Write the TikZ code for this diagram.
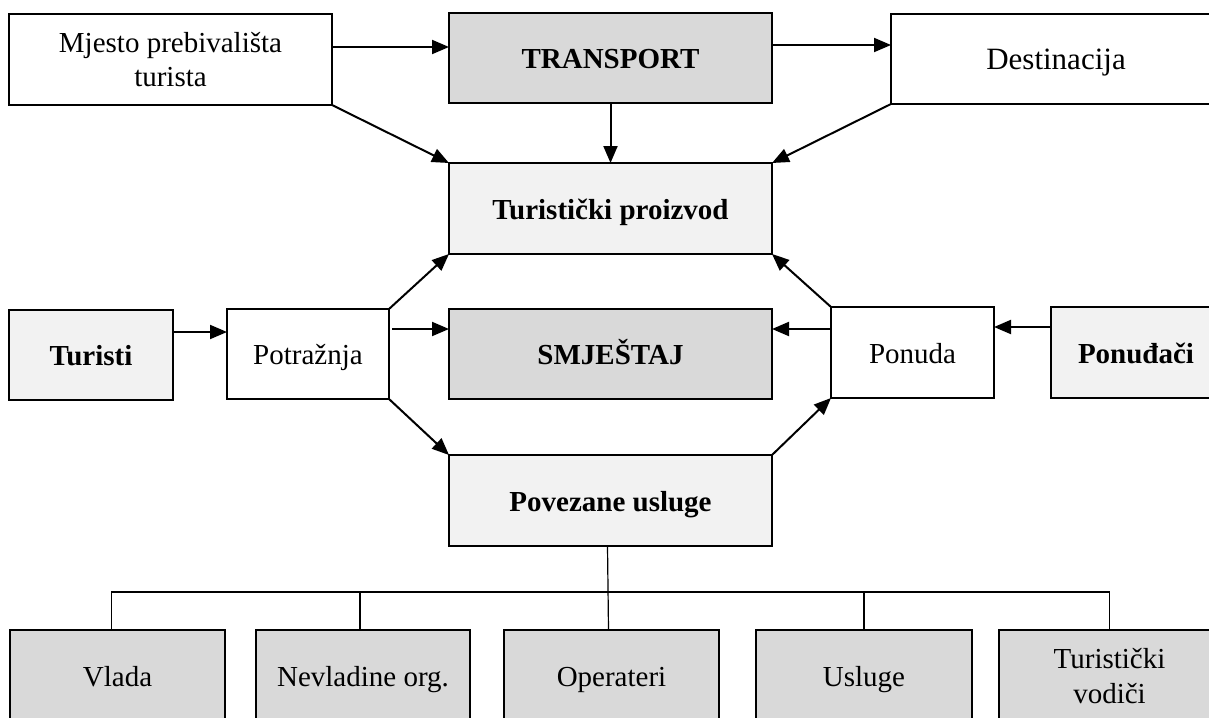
\documentclass[tikz,border=0pt]{standalone}
\usepackage{fontspec}
\setmainfont{Liberation Serif}
\usetikzlibrary{arrows.meta}
\definecolor{dgray}{HTML}{D9D9D9}
\definecolor{lgray}{HTML}{F2F2F2}
\tikzset{
  box/.style={draw, line width=1.9pt, rectangle, inner sep=0pt, outer sep=0pt, anchor=north west, align=center,
    font=\fontsize{29}{34}\selectfont},
  one/.style={text height=21pt, text depth=0pt},
  bbold/.style={box, one, font=\fontsize{29}{34}\selectfont\bfseries},
  arr/.style={line width=2pt, -{Triangle[length=17pt,width=14pt]}},
  tree/.style={line width=1.2pt},
}
\begin{document}
\begin{tikzpicture}[x=1pt,y=-1pt]
\useasboundingbox (0,0) rectangle (1209,717);
\clip (0,0) rectangle (1209,717);
% top row
\node[box, minimum width=323pt, minimum height=91pt] (mjesto) at (9,14) {Mjesto prebivališta\\turista};
\node[bbold, fill=dgray, minimum width=323pt, minimum height=90pt] (transport) at (449,13) {TRANSPORT};
\node[box, one, minimum width=330pt, minimum height=90pt, font=\fontsize{31}{36}\selectfont] (dest) at (891,14) {Destinacija};
% product
\node[bbold, fill=lgray, minimum width=323pt, minimum height=91pt] (proizvod) at (449,163) {Turistički proizvod};
% middle row
\node[bbold, fill=lgray, minimum width=164pt, minimum height=90pt] (turisti) at (9,310) {Turisti};
\node[box, one, minimum width=162pt, minimum height=90pt] (potraznja) at (227,309) {Potražnja};
\node[bbold, fill=dgray, minimum width=323pt, minimum height=90pt] (smjestaj) at (449,309) {SMJEŠTAJ};
\node[box, one, minimum width=163pt, minimum height=91pt] (ponuda) at (831,307) {Ponuda};
\node[bbold, fill=lgray, minimum width=170pt, minimum height=91pt] (ponudjaci) at (1051,307) {Ponuđači};
% related services
\node[bbold, fill=lgray, minimum width=323pt, minimum height=91pt] (povezane) at (449,455) {Povezane usluge};
% bottom row
\node[box, one, fill=dgray, minimum width=215pt, minimum height=92pt] (vlada) at (10,630) {Vlada};
\node[box, one, fill=dgray, minimum width=214pt, minimum height=92pt] (nevladine) at (256,630) {Nevladine org.};
\node[box, one, fill=dgray, minimum width=215pt, minimum height=92pt] (operateri) at (504,630) {Operateri};
\node[box, one, fill=dgray, minimum width=216pt, minimum height=92pt] (usluge) at (756,630) {Usluge};
\node[box, fill=dgray, minimum width=221pt, minimum height=92pt, font=\fontsize{29}{35}\selectfont] (vodici) at (999,630) {Turistički\\vodiči};
% arrows top
\draw[arr] (mjesto.east |- 0,47) -- (transport.west |- 0,47);
\draw[arr] (transport.east |- 0,45) -- (dest.west |- 0,45);
\draw[arr] (mjesto.south east) -- (proizvod.north west);
\draw[arr] (transport.south) -- (proizvod.north);
\draw[arr] (dest.south west) -- (proizvod.north east);
% arrows middle
\draw[arr] (turisti.east |- 0,332) -- (potraznja.west |- 0,332);
\draw[arr] ([xshift=3pt]potraznja.east |- 0,329) -- (smjestaj.west |- 0,329);
\draw[arr] (potraznja.north east) -- (proizvod.south west);
\draw[arr] (potraznja.south east) -- (povezane.north west);
\draw[arr] (ponudjaci.west |- 0,327) -- (ponuda.east |- 0,327);
\draw[arr] (ponuda.west |- 0,329) -- (smjestaj.east |- 0,329);
\draw[arr] (ponuda.north west) -- (proizvod.south east);
\draw[arr] (povezane.north east) -- (ponuda.south west);
% tree
\draw[tree] ([xshift=-3pt]povezane.south) -- ([xshift=-3pt]operateri.north);
\draw[tree] ([xshift=-6pt]vlada.north) -- ++(0,-38) -| (vodici.north);
\draw[tree] ([xshift=-3pt]nevladine.north) -- ++(0,-38);
\draw[tree] (usluge.north) -- ++(0,-38);
\end{tikzpicture}
\end{document}
